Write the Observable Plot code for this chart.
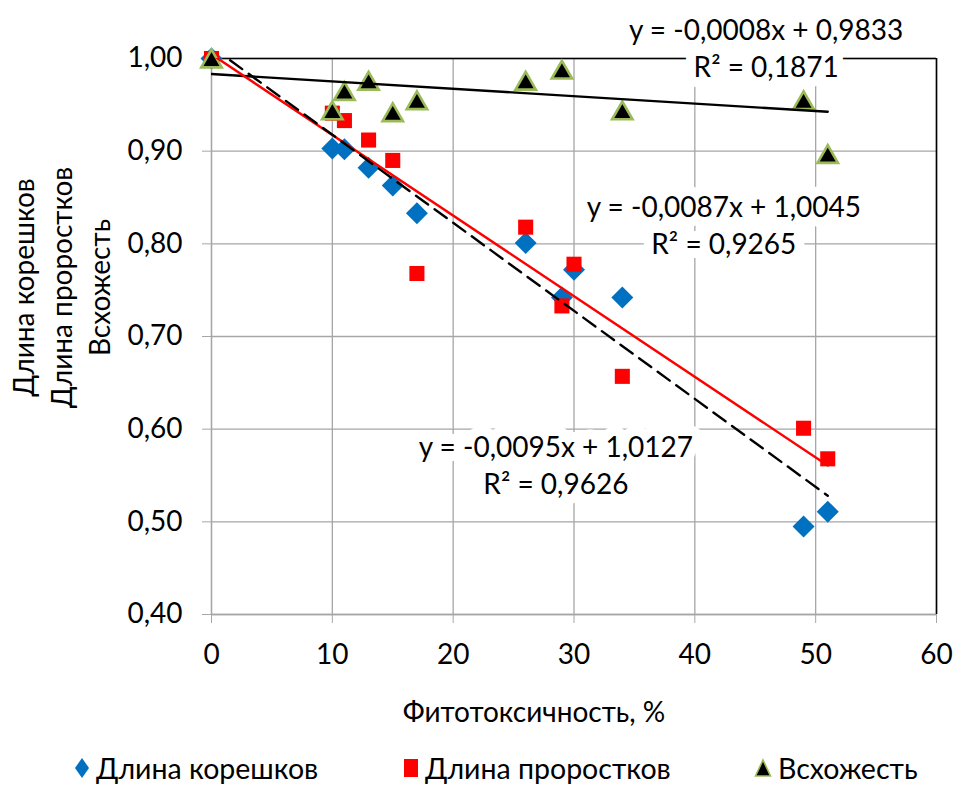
<!DOCTYPE html>
<html><head><meta charset="utf-8">
<script src="https://cdn.jsdelivr.net/npm/d3@7"></script>
<script src="https://cdn.jsdelivr.net/npm/@observablehq/plot@0.6"></script>
<style>
body{margin:0;background:#fff;font-family:Lato, sans-serif;}
#wrap{position:relative;width:955px;height:796px;overflow:hidden;background:#fff;}
#legend{position:absolute;left:0;top:740px;width:955px;height:56px;}
.item{position:absolute;top:0;height:56px;display:flex;align-items:center;font-size:28.5px;color:#000;white-space:nowrap;}
.item svg{margin-right:6px;}
</style></head><body><div id="wrap"><div id="chart"></div><div id="legend"></div></div>
<script>
// ---- data ----
const xValues = [0, 10, 11, 13, 15, 17, 26, 29, 30, 34, 49, 51];
const rootLength = [1.000, 0.903, 0.902, 0.882, 0.863, 0.833, 0.801, 0.742, 0.772, 0.742, 0.495, 0.511];
const shootLength = [1.000, 0.941, 0.933, 0.912, 0.890, 0.768, 0.818, 0.733, 0.778, 0.657, 0.601, 0.568];
const germX = [0, 10, 11, 13, 15, 17, 26, 29, 34, 49, 51];
const germination = [1.000, 0.944, 0.965, 0.976, 0.942, 0.955, 0.976, 0.988, 0.944, 0.955, 0.897];
const seriesNames = ["Длина корешков", "Длина проростков", "Всхожесть"];
const slopes = [-0.0095, -0.0087, -0.0008];
const intercepts = [1.0127, 1.0045, 0.9833];
const r2 = [0.9626, 0.9265, 0.1871];
const xTicks = [0, 10, 20, 30, 40, 50, 60];
const yTicks = [0.4, 0.5, 0.6, 0.7, 0.8, 0.9, 1.0];
const xTitle = "Фитотоксичность, %";

const comma = (v, n) => v.toFixed(n).replace(".", ",");
const eq = i => `y = ${comma(slopes[i], 4)}x + ${comma(intercepts[i], 4)}\nR² = ${comma(r2[i], 4)}`;
const rootData = xValues.map((x, i) => ({x, y: rootLength[i]}));
const shootData = xValues.map((x, i) => ({x, y: shootLength[i]}));
const germData = germX.map((x, i) => ({x, y: germination[i]}));
const xExtRoot = d3.extent(xValues), xExtShoot = d3.extent(xValues), xExtGerm = d3.extent(germX);

const FS = 28;
const grid = "#a6a6a6";
const blue = "#0070C0", red = "#FF0000", green = "#9BBB59";
const labelStyle = {fill: "#000", stroke: "#fff", strokeWidth: 20, strokeLinejoin: "round", fontSize: FS, lineHeight: 37 / FS, textAnchor: "middle", lineAnchor: "middle"};
const titleStyle = {fontSize: FS, fill: "#000", textAnchor: "middle", lineAnchor: "middle"};

const chart = Plot.plot({
  width: 955, height: 740,
  marginLeft: 211, marginRight: 19, marginTop: 58, marginBottom: 126,
  style: {fontFamily: "Lato, sans-serif", fontSize: FS + "px", color: "#000", background: "#fff"},
  x: {domain: [0, 60], ticks: xTicks},
  y: {domain: [0.4, 1.0], ticks: yTicks},
  marks: [
    Plot.gridX(xTicks, {stroke: grid, strokeOpacity: 1, strokeWidth: 1.3}),
    Plot.gridY(yTicks, {stroke: grid, strokeOpacity: 1, strokeWidth: 1.3}),
    Plot.ruleY([1.0], {stroke: "#000", strokeWidth: 1.6}),
    Plot.ruleX([60], {stroke: "#000", strokeWidth: 1.6}),
    Plot.ruleX([0], {stroke: grid, strokeWidth: 1.3}),
    Plot.ruleY([0.4], {stroke: grid, strokeWidth: 1.3}),
    Plot.axisX({ticks: xTicks, tickSize: 9, tickPadding: 21, stroke: grid, fill: "#000", tickFormat: d => String(d), label: null, fontSize: FS}),
    Plot.axisY({ticks: yTicks, tickSize: 9, tickPadding: 20, stroke: grid, fill: "#000", tickFormat: d => comma(d, 2), label: null, fontSize: FS}),
    Plot.dot(rootData, {x: "x", y: "y", symbol: "diamond2", r: 9.9, fill: blue, stroke: "none"}),
    Plot.dot(shootData, {x: "x", y: "y", symbol: "square", r: 8.5, fill: red, stroke: "none"}),
    Plot.dot(germData, {x: "x", y: "y", symbol: "triangle", r: 7.6, dy: 3, fill: "#000", stroke: green, strokeWidth: 2.6}),
    Plot.line(xExtGerm, {x: d => d, y: d => slopes[2] * d + intercepts[2], stroke: "#000", strokeWidth: 2.4, clip: true}),
    Plot.line(xExtShoot, {x: d => d, y: d => slopes[1] * d + intercepts[1], stroke: red, strokeWidth: 2.4, clip: true}),
    Plot.line(xExtRoot, {x: d => d, y: d => slopes[0] * d + intercepts[0], stroke: "#000", strokeWidth: 2.4, strokeDasharray: "15,8", clip: true}),
    Plot.text([eq(2)], {x: 45.9, y: 1.0124, ...labelStyle}),
    Plot.text([eq(1)], {x: 42.4, y: 0.8213, ...labelStyle}),
    Plot.text([eq(0)], {x: 28.5, y: 0.5623, ...labelStyle}),
    Plot.text([xTitle], {frameAnchor: "bottom", dx: -40, dy: 99, ...titleStyle}),
    Plot.text([seriesNames[0]], {frameAnchor: "left", dx: -186, dy: -49, rotate: -90, ...titleStyle}),
    Plot.text([seriesNames[1]], {frameAnchor: "left", dx: -148, dy: -49, rotate: -90, ...titleStyle}),
    Plot.text([seriesNames[2]], {frameAnchor: "left", dx: -110, dy: -49, rotate: -90, ...titleStyle})
  ]
});
document.getElementById("chart").append(chart);

// ---- legend ----
const legend = document.getElementById("legend");
const markers = [
  `<svg width="16" height="22" viewBox="-8 -11 16 22"><path d="M0,-10L7,0L0,10L-7,0Z" fill="${blue}"/></svg>`,
  `<svg width="16" height="20" viewBox="-8 -10 16 20"><rect x="-7" y="-9" width="14" height="18" fill="${red}"/></svg>`,
  `<svg width="18" height="20" viewBox="-9 -10 18 20"><path d="M0,-8L7.5,8L-7.5,8Z" fill="#000" stroke="${green}" stroke-width="1.6"/></svg>`
];
const lefts = [74, 403, 754];
seriesNames.forEach((name, i) => {
  const el = document.createElement("div");
  el.className = "item";
  el.style.left = lefts[i] + "px";
  el.innerHTML = markers[i] + `<span>${name}</span>`;
  legend.append(el);
});
</script></body></html>
